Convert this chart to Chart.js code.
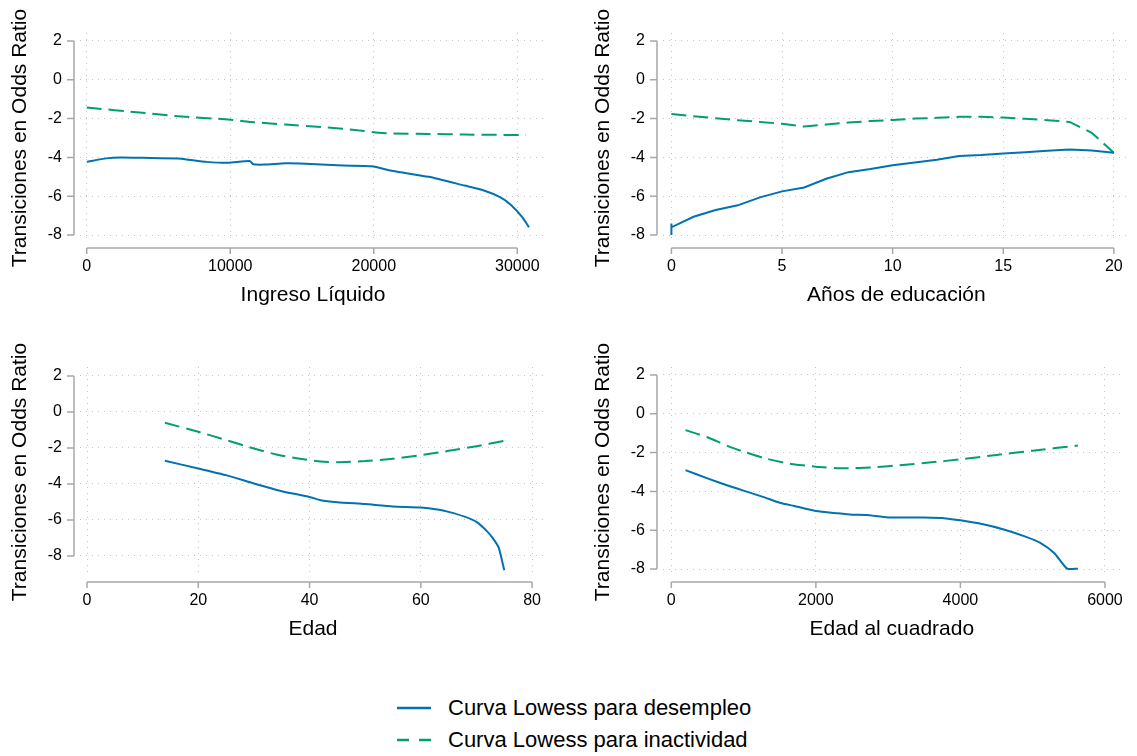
<!DOCTYPE html>
<html>
<head>
<meta charset="utf-8">
<script src="https://cdn.jsdelivr.net/npm/chart.js@4.4.0/dist/chart.umd.min.js"></script>
<style>
  body { margin: 0; background: #fff; width: 1137px; height: 756px; position: relative; overflow: hidden;
         font-family: "Liberation Sans", Arial, sans-serif; }
  .panel { position: absolute; }
  .legrow { position: absolute; left: 397px; height: 28px; display: flex; align-items: center; font-size: 22px; color: #000; }
  .legrow svg { width: 34px; height: 4px; margin-right: 17px; }
</style>
</head>
<body>
<div class="panel" style="left:0;top:0;width:568px;height:320px"><canvas id="chartIngreso"></canvas></div>
<div class="panel" style="left:583px;top:0;width:554px;height:320px"><canvas id="chartEducacion"></canvas></div>
<div class="panel" style="left:0;top:334px;width:568px;height:320px"><canvas id="chartEdad"></canvas></div>
<div class="panel" style="left:583px;top:334px;width:554px;height:320px"><canvas id="chartEdad2"></canvas></div>

<div class="legrow" style="top:694px">
  <svg><line x1="0" y1="2" x2="34" y2="2" stroke="#0072B2" stroke-width="2.5"/></svg>
  <span>Curva Lowess para desempleo</span>
</div>
<div class="legrow" style="top:726px">
  <svg><line x1="0" y1="2" x2="34" y2="2" stroke="#009E73" stroke-width="2.5" stroke-dasharray="12,10"/></svg>
  <span>Curva Lowess para inactividad</span>
</div>

<script>
// datos (curvas lowess)
var yTicks = [-8, -6, -4, -2, 0, 2];

var ingresoTicks = [0, 10000, 20000, 30000];
var ingresoXDes = [0, 1370, 2370, 3870, 6360, 6860, 8360, 9860, 11350, 11600, 12350, 13850, 14850, 16350, 17850, 19840, 21340, 23830, 26330, 27580, 28830, 29580, 30330, 30820];
var ingresoDes = [-4.23, -4.05, -4.0, -4.02, -4.06, -4.09, -4.23, -4.28, -4.19, -4.35, -4.37, -4.30, -4.31, -4.36, -4.42, -4.46, -4.70, -5.0, -5.45, -5.68, -6.06, -6.46, -7.06, -7.6];
var ingresoXIna = [0, 3870, 6360, 9860, 11350, 13850, 16350, 18840, 20340, 21340, 23830, 26330, 28830, 30600];
var ingresoIna = [-1.43, -1.70, -1.88, -2.05, -2.17, -2.31, -2.43, -2.60, -2.73, -2.77, -2.79, -2.82, -2.84, -2.84];

var eduTicks = [0, 5, 10, 15, 20];
var eduX = [0, 0, 0, 1, 2, 3, 4, 5, 6, 7, 8, 9, 10, 11, 12, 13, 14, 15, 16, 17, 18, 19, 20];
var eduDes = [-8.0, -7.4, -7.6, -7.06, -6.71, -6.47, -6.06, -5.75, -5.55, -5.10, -4.76, -4.60, -4.40, -4.26, -4.12, -3.93, -3.88, -3.80, -3.73, -3.66, -3.59, -3.64, -3.76];
var eduXIna = [0, 1, 2, 3, 4, 5, 6, 7, 8, 9, 10, 11, 12, 13, 14, 15, 16, 17, 18, 19, 20];
var eduIna = [-1.76, -1.88, -1.98, -2.08, -2.17, -2.27, -2.41, -2.31, -2.20, -2.13, -2.07, -2.0, -1.96, -1.91, -1.91, -1.95, -2.01, -2.08, -2.17, -2.73, -3.76];

var edadTicks = [0, 20, 40, 60, 80];
var edadXDes = [14, 20, 25, 30, 35, 40, 42, 45, 50, 55, 60, 63, 65, 68, 70, 72, 73, 74, 75];
var edadDes = [-2.71, -3.14, -3.51, -3.97, -4.40, -4.72, -4.90, -5.01, -5.12, -5.25, -5.31, -5.42, -5.55, -5.83, -6.11, -6.66, -7.04, -7.54, -8.8];
var edadXIna = [14, 20, 25, 30, 34, 38, 42, 45, 50, 55, 60, 65, 70, 75];
var edadIna = [-0.60, -1.10, -1.56, -2.03, -2.36, -2.58, -2.75, -2.79, -2.73, -2.60, -2.40, -2.16, -1.90, -1.60];

var edad2Ticks = [0, 2000, 4000, 6000];
var edad2XDes = [196, 500, 800, 1000, 1300, 1500, 1700, 2000, 2300, 2500, 2700, 3000, 3500, 3800, 4000, 4300, 4600, 4900, 5100, 5300, 5476, 5625];
var edad2Des = [-2.90, -3.33, -3.72, -3.96, -4.32, -4.58, -4.75, -5.01, -5.13, -5.20, -5.22, -5.34, -5.35, -5.39, -5.49, -5.68, -5.96, -6.33, -6.64, -7.19, -7.98, -7.98];
var edad2XIna = [196, 500, 800, 1000, 1300, 1600, 2000, 2400, 2800, 3200, 3600, 4000, 4500, 5000, 5625];
var edad2Ina = [-0.84, -1.21, -1.69, -1.95, -2.30, -2.55, -2.73, -2.81, -2.76, -2.64, -2.50, -2.35, -2.12, -1.90, -1.64];

var azul = '#0072B2';
var verde = '#009E73';
var gris = '#a8a8a8';

function pares(xs, ys) {
  return xs.map(function (x, i) { return { x: x, y: ys[i] }; });
}

// ejes al estilo Stata: separados del area del grafico
var ejesPlugin = {
  id: 'ejesStata',
  afterDraw: function (chart) {
    var ctx = chart.ctx, area = chart.chartArea;
    var xs = chart.scales.x, ys = chart.scales.y;
    ctx.save();
    ctx.strokeStyle = gris;
    ctx.lineWidth = 1.5;
    ctx.beginPath();
    var ax = area.left - 6;
    ctx.moveTo(ax, ys.getPixelForValue(ys.ticks[0].value));
    ctx.lineTo(ax, ys.getPixelForValue(ys.ticks[ys.ticks.length - 1].value));
    ys.ticks.forEach(function (t) {
      var p = ys.getPixelForValue(t.value);
      ctx.moveTo(ax - 7, p);
      ctx.lineTo(ax, p);
    });
    var ay = area.bottom + 5;
    ctx.moveTo(xs.getPixelForValue(xs.ticks[0].value), ay);
    ctx.lineTo(xs.getPixelForValue(xs.ticks[xs.ticks.length - 1].value), ay);
    xs.ticks.forEach(function (t) {
      var p = xs.getPixelForValue(t.value);
      ctx.moveTo(p, ay);
      ctx.lineTo(p, ay + 6);
    });
    ctx.stroke();
    ctx.restore();
  }
};

Chart.defaults.font.family = '"Liberation Sans", Arial, sans-serif';
Chart.defaults.color = '#000';

function crearGrafico(id, tituloX, xTicks, xMin, xMax, yMin, yMax, padDer, tension, xDes, yDes, xIna, yIna) {
  var ctx = document.getElementById(id).getContext('2d');
  return new Chart(ctx, {
    type: 'scatter',
    data: {
      datasets: [{
        label: 'Curva Lowess para desempleo',
        data: pares(xDes, yDes),
        showLine: true,
        borderColor: azul,
        borderWidth: 2,
        pointRadius: 0,
        tension: tension
      }, {
        label: 'Curva Lowess para inactividad',
        data: pares(xIna, yIna),
        showLine: true,
        borderColor: verde,
        borderWidth: 2,
        borderDash: [15, 7],
        pointRadius: 0,
        tension: tension
      }]
    },
    options: {
      responsive: true,
      maintainAspectRatio: false,
      animation: false,
      layout: { padding: { top: 33, bottom: 12, left: 0, right: padDer } },
      plugins: { legend: { display: false }, tooltip: { enabled: false } },
      scales: {
        x: {
          type: 'linear',
          min: xMin,
          max: xMax,
          afterBuildTicks: function (s) { s.ticks = xTicks.map(function (v) { return { value: v }; }); },
          afterFit: function (s) { s.height = 65; },
          grid: { color: '#c4c4c4', lineWidth: 1, drawTicks: false },
          border: { display: false, dash: [1, 5] },
          ticks: { padding: 14, font: { size: 16 }, maxRotation: 0, autoSkip: false,
                   callback: function (v) { return String(v); } },
          title: { display: true, text: tituloX, font: { size: 21 }, padding: 0 }
        },
        y: {
          min: yMin,
          max: yMax,
          afterBuildTicks: function (s) { s.ticks = yTicks.map(function (v) { return { value: v }; }); },
          afterFit: function (s) { s.width = 80; },
          grid: { color: '#c4c4c4', lineWidth: 1, drawTicks: false },
          border: { display: false, dash: [1, 5] },
          ticks: { padding: 18, font: { size: 16 }, callback: function (v) { return String(v); } },
          title: { display: true, text: 'Transiciones en Odds Ratio', font: { size: 21 }, padding: { top: 8, bottom: 0 } }
        }
      }
    },
    plugins: [ejesPlugin]
  });
}

crearGrafico('chartIngreso', 'Ingreso Líquido', ingresoTicks, -470, 32000, -8.41, 2.41, 22, 0.2,
  ingresoXDes, ingresoDes, ingresoXIna, ingresoIna);
crearGrafico('chartEducacion', 'Años de educación', eduTicks, -0.38, 20.72, -8.41, 2.41, 7, 0,
  eduX, eduDes, eduXIna, eduIna);
crearGrafico('chartEdad', 'Edad', edadTicks, -1.26, 82.5, -9.17, 2.5, 22, 0.2,
  edadXDes, edadDes, edadXIna, edadIna);
crearGrafico('chartEdad2', 'Edad al cuadrado', edad2Ticks, -115, 6217, -8.41, 2.41, 7, 0.2,
  edad2XDes, edad2Des, edad2XIna, edad2Ina);
</script>
</body>
</html>
